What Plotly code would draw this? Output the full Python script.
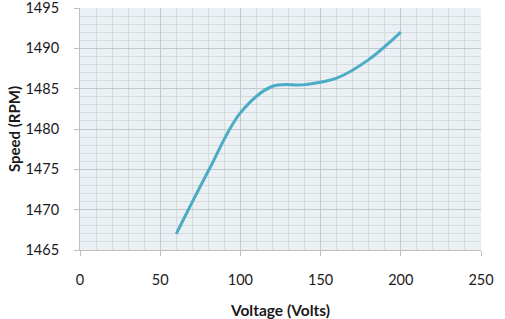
import plotly.graph_objects as go

voltage = [60, 80, 100, 120, 140, 160, 180, 200]
speed = [1467, 1474.8, 1482, 1485.3, 1485.5, 1486.3, 1488.6, 1492]

x_ticks = [0, 50, 100, 150, 200, 250]
y_ticks = [1465, 1470, 1475, 1480, 1485, 1490, 1495]

font = "Lato, 'Open Sans', sans-serif"

fig = go.Figure()
fig.add_trace(go.Scatter(
    x=voltage, y=speed, mode="lines",
    line=dict(color="#4BACC6", width=3, shape="spline", smoothing=1.0),
    showlegend=False, hoverinfo="skip",
))

fig.update_layout(
    width=505, height=319,
    margin=dict(l=80, r=24, t=8, b=69),
    paper_bgcolor="white",
    plot_bgcolor="#EAF0F3",
    font=dict(family=font, size=14.5, color="#1a1a1a"),
)
fig.update_xaxes(
    range=[0, 250], tickvals=x_ticks, ticks="outside", ticklen=5, tickcolor="#BFBFBF",
    showgrid=True, gridcolor="#C4C8CB", gridwidth=1,
    minor=dict(dtick=10, showgrid=True, gridcolor="#D6DBDE", ticks=""),
    showline=True, linecolor="#BFBFBF", linewidth=1,
    zeroline=False, automargin=False, ticklabeloverflow="allow",
    ticklabelstandoff=12,
    title=dict(text="<b>Voltage (Volts)</b>", font=dict(size=15.5), standoff=17),
    tickfont=dict(size=14.5),
)
fig.update_yaxes(
    range=[1465, 1495], tickvals=y_ticks, ticks="outside", ticklen=5, tickcolor="#BFBFBF",
    showgrid=True, gridcolor="#C4C8CB", gridwidth=1,
    minor=dict(dtick=1, showgrid=True, gridcolor="#D6DBDE", ticks=""),
    showline=True, linecolor="#BFBFBF", linewidth=1,
    zeroline=False, automargin=False, ticklabeloverflow="allow",
    ticklabelstandoff=12,
    title=dict(text="<b>Speed (RPM)</b>", font=dict(size=15), standoff=1),
    tickfont=dict(size=14.5),
)

fig.write_html("out.html", config={"displayModeBar": False},
               post_script="document.body.style.margin='0';")
